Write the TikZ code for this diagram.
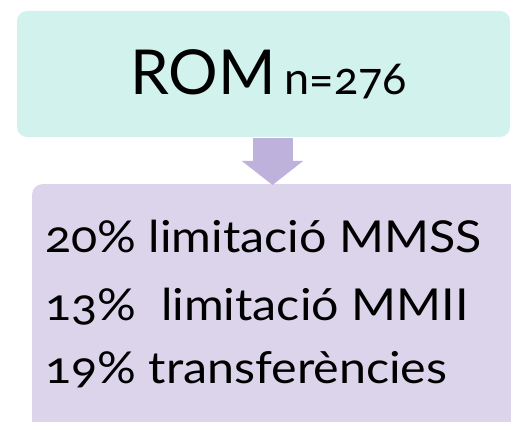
\documentclass[tikz,border=0pt]{standalone}
\usepackage{fontspec}
\setmainfont[Numbers=OldStyle]{Lato}
\newfontfamily\widelato[Numbers=OldStyle,FakeStretch=1.1]{Lato}
\usepackage{xcolor}
\usepackage{tikz}
\usetikzlibrary{positioning,arrows.meta,calc}

\definecolor{romteal}{HTML}{D2F2EE}
\definecolor{limlav}{HTML}{DBD4EB}
\definecolor{arrowlav}{HTML}{BEB2DD}

\begin{document}
\begin{tikzpicture}[x=1pt,y=1pt,
    box/.style={rounded corners=10pt, inner sep=0pt},
    line/.style={font=\widelato\fontsize{44}{50}\selectfont, anchor=base west, inner sep=0pt}]
    \clip (0,0) rectangle (511,421);

    % Boxes
    \node[box, fill=romteal, minimum width=493pt, minimum height=126pt,
          font=\fontsize{62}{70}\selectfont] (rom) at (263.5,347)
          {\hspace*{10pt}ROM\hspace{9pt}{\fontsize{45}{50}\selectfont n=276}};
    \node[box, fill=limlav, minimum width=520pt, minimum height=248pt,
          anchor=north west] (lim) at (32,237) {};

    % Arrow
    \coordinate (a1) at ($(rom.south)+(9,-1)$);
    \coordinate (a2) at ($(lim.north west)+(241,-1)$);
    \draw[arrowlav, line width=40pt, -{Triangle[length=24pt,width=60pt]}]
        (a1) -- (a1 |- a2);

    % Labels
    \node[line] (l1) at (45,169) {20\% limitació MMSS};
    \node[line] (l2) at (45,101) {13\%~ limitació MMII};
    \node[line] (l3) at (45,38) {19\% transferències};
\end{tikzpicture}
\end{document}
